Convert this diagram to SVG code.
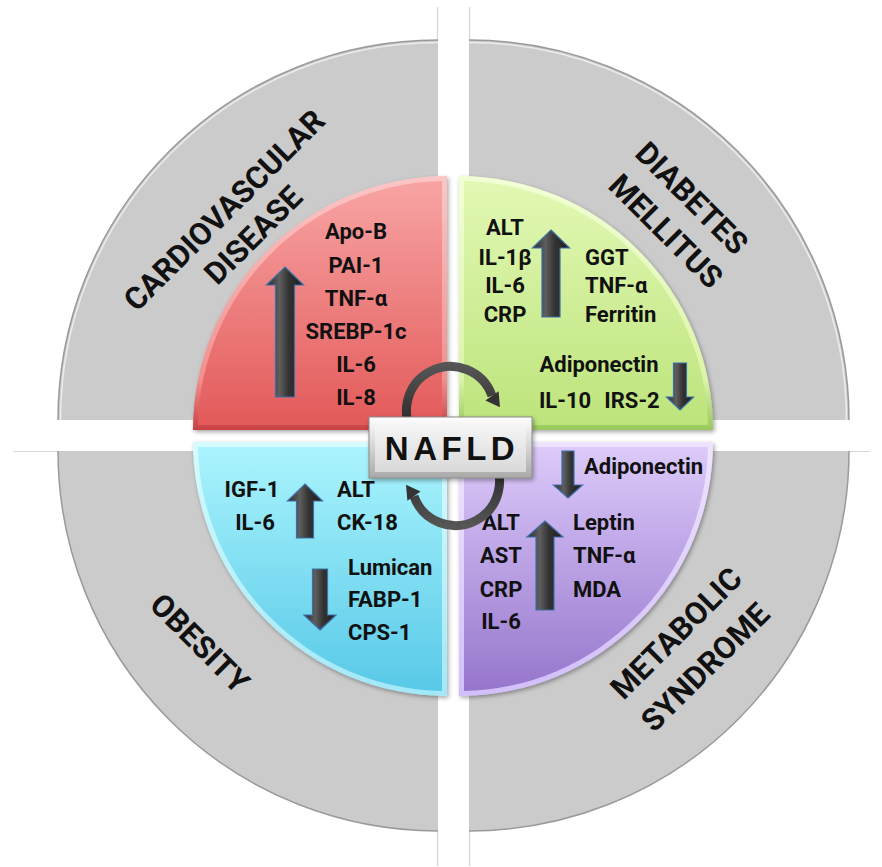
<svg xmlns="http://www.w3.org/2000/svg" width="882" height="867" viewBox="0 0 882 867">
<defs>
<style>
.t{font-family:Roboto,"Liberation Sans",Arial,sans-serif;font-weight:bold;font-size:22px;fill:#111}
.m{text-anchor:middle}
.o{font-family:Roboto,"Liberation Sans",Arial,sans-serif;font-weight:bold;font-size:31px;fill:#111;text-anchor:middle}
.gray{fill:#cbcbcb}
.garc{fill:none;stroke:#9a9a9a;stroke-width:1.5}
.ghl{fill:none;stroke:#ececec;stroke-width:1.5}
.xl{stroke:#d6d6d6;stroke-width:1.2;fill:none}
.arr{fill:url(#gArr);stroke:#3d6fa8;stroke-width:1.2;stroke-linejoin:miter}
.cyc{fill:none;stroke:url(#gCyc);stroke-width:9}
.cyh{fill:#333}
.q{filter:url(#sh)}
</style>
<filter id="sh" x="-10%" y="-10%" width="120%" height="120%">
<feDropShadow dx="1.5" dy="2" stdDeviation="2" flood-color="#000" flood-opacity="0.35"/>
</filter>
<linearGradient id="gArr" x1="0" y1="0" x2="1" y2="0">
<stop offset="0" stop-color="#2a2a2a"/><stop offset="0.35" stop-color="#5e5e5e"/><stop offset="0.6" stop-color="#333"/><stop offset="1" stop-color="#1c1c1c"/>
</linearGradient>
<linearGradient id="gCyc" x1="0" y1="0" x2="0" y2="1">
<stop offset="0" stop-color="#555"/><stop offset="1" stop-color="#222"/>
</linearGradient>
<linearGradient id="rE" x1="0" y1="0" x2="0" y2="1"><stop offset="0" stop-color="#fcc6c6"/><stop offset="0.8" stop-color="#f29090"/><stop offset="1" stop-color="#c84040"/></linearGradient>
<linearGradient id="rF" x1="0" y1="0" x2="0" y2="1"><stop offset="0" stop-color="#f8a4a4"/><stop offset="1" stop-color="#e35a5a"/></linearGradient>
<linearGradient id="gE" x1="0" y1="0" x2="0" y2="1"><stop offset="0" stop-color="#f2ffd6"/><stop offset="0.8" stop-color="#dcf4a8"/><stop offset="1" stop-color="#98c85a"/></linearGradient>
<linearGradient id="gF" x1="0" y1="0" x2="0" y2="1"><stop offset="0" stop-color="#e2f8b4"/><stop offset="1" stop-color="#bde47c"/></linearGradient>
<linearGradient id="bE" x1="0" y1="0" x2="0" y2="1"><stop offset="0" stop-color="#d6fcff"/><stop offset="1" stop-color="#a2e8f8"/></linearGradient>
<linearGradient id="bF" x1="0" y1="0" x2="0" y2="1"><stop offset="0" stop-color="#aaf4fd"/><stop offset="1" stop-color="#58c9e8"/></linearGradient>
<linearGradient id="pE" x1="0" y1="0" x2="0" y2="1"><stop offset="0" stop-color="#efe4ff"/><stop offset="1" stop-color="#d2befa"/></linearGradient>
<linearGradient id="pF" x1="0" y1="0" x2="0" y2="1"><stop offset="0" stop-color="#dccafa"/><stop offset="1" stop-color="#9676cc"/></linearGradient>
<linearGradient id="nE" x1="0" y1="0" x2="0" y2="1"><stop offset="0" stop-color="#ffffff"/><stop offset="1" stop-color="#a9a9a9"/></linearGradient>
<linearGradient id="nF" x1="0" y1="0" x2="0" y2="1"><stop offset="0" stop-color="#f6f6f6"/><stop offset="1" stop-color="#d9d9d9"/></linearGradient>
</defs>
<rect width="882" height="867" fill="#ffffff"/>

<g id="cross">
<line class="xl" x1="437.5" y1="7" x2="437.5" y2="866"/>
<line class="xl" x1="469.5" y1="7" x2="469.5" y2="866"/>
<line class="xl" x1="13" y1="451.5" x2="870" y2="451.5"/>
</g>

<g id="cardiovascular-disease">
<path class="gray" d="M438,420 L58,420 A380,380 0 0 1 438,40 Z"/>
<path class="garc" d="M58,420 A380,380 0 0 1 438,40"/>
<path class="ghl" d="M60.5,420 A377.5,377.5 0 0 1 438,42.5"/>
<text class="o" transform="translate(224,210) rotate(-45)" y="11">CARDIOVASCULAR</text>
<text class="o" transform="translate(253,235) rotate(-45)" y="11">DISEASE</text>
</g>
<g id="diabetes-mellitus">
<path class="gray" d="M469,420 L469,40 A380,380 0 0 1 849,420 Z"/>
<path class="garc" d="M469,40 A380,380 0 0 1 849,420"/>
<path class="ghl" d="M469,42.5 A377.5,377.5 0 0 1 846.5,420"/>
<text class="o" transform="translate(692,198) rotate(45)" y="11">DIABETES</text>
<text class="o" transform="translate(666,231) rotate(45)" y="11">MELLITUS</text>
</g>
<g id="obesity">
<path class="gray" d="M438,451 L438,831 A380,380 0 0 1 58,451 Z"/>
<path class="garc" d="M438,831 A380,380 0 0 1 58,451"/>
<text class="o" transform="translate(200,643) rotate(45)" y="11">OBESITY</text>
</g>
<g id="metabolic-syndrome">
<path class="gray" d="M469,451 L849,451 A380,380 0 0 1 469,831 Z"/>
<path class="garc" d="M849,451 A380,380 0 0 1 469,831"/>
<text class="o" transform="translate(676,633) rotate(-45)" y="11">METABOLIC</text>
<text class="o" transform="translate(705,667) rotate(-45)" y="11">SYNDROME</text>
</g>

<g id="cvd-markers">
<path class="q" d="M447,430 L193,430 A254,254 0 0 1 447,176 Z" fill="url(#rE)"/>
<path d="M442,425 L198,425 A249,249 0 0 1 442,181 Z" fill="url(#rF)"/>
<polygon class="arr" points="285,267 303.5,285 294.5,285 294.5,397 275.5,397 275.5,285 266.5,285"/>
<text class="t m" x="356" y="239">Apo-B</text>
<text class="t m" x="356" y="273">PAI-1</text>
<text class="t m" x="356" y="306">TNF-α</text>
<text class="t m" x="356" y="339">SREBP-1c</text>
<text class="t m" x="356" y="372">IL-6</text>
<text class="t m" x="356" y="405">IL-8</text>
</g>

<g id="dm-markers">
<path class="q" d="M459,430 L459,176 A254,254 0 0 1 713,430 Z" fill="url(#gE)"/>
<path d="M464,425 L464,181 A249,249 0 0 1 708,425 Z" fill="url(#gF)"/>
<polygon class="arr" points="551,230 569.5,248 560,248 560,317 542,317 542,248 532.5,248"/>
<polygon class="arr" points="680,410 693.5,397 686.5,397 686.5,363 673.5,363 673.5,397 666.5,397"/>
<text class="t m" x="505" y="235">ALT</text>
<text class="t m" x="505" y="265">IL-1β</text>
<text class="t m" x="505" y="293">IL-6</text>
<text class="t m" x="505" y="322">CRP</text>
<text class="t" x="585" y="265">GGT</text>
<text class="t" x="585" y="293">TNF-α</text>
<text class="t" x="585" y="322">Ferritin</text>
<text class="t m" x="599" y="372">Adiponectin</text>
<text class="t m" x="565" y="408">IL-10</text>
<text class="t m" x="632" y="408">IRS-2</text>
</g>

<g id="obesity-markers">
<path class="q" d="M447,442 L447,696 A254,254 0 0 1 193,442 Z" fill="url(#bE)"/>
<path d="M442,447 L442,691 A249,249 0 0 1 198,447 Z" fill="url(#bF)"/>
<polygon class="arr" points="305,484 322.5,501 313.5,501 313.5,538 296.5,538 296.5,501 287.5,501"/>
<polygon class="arr" points="320,630 336,615 327.5,615 327.5,569 312.5,569 312.5,615 304,615"/>
<text class="t m" x="252" y="497">IGF-1</text>
<text class="t m" x="255" y="530">IL-6</text>
<text class="t" x="337" y="497">ALT</text>
<text class="t" x="337" y="530">CK-18</text>
<text class="t" x="348" y="575">Lumican</text>
<text class="t" x="348" y="607">FABP-1</text>
<text class="t" x="348" y="640">CPS-1</text>
</g>

<g id="mets-markers">
<path class="q" d="M459,442 L713,442 A254,254 0 0 1 459,696 Z" fill="url(#pE)"/>
<path d="M464,447 L708,447 A249,249 0 0 1 464,691 Z" fill="url(#pF)"/>
<polygon class="arr" points="568,498 582.5,485 574,485 574,451 562,451 562,485 553.5,485"/>
<polygon class="arr" points="545,521 563,537 554,537 554,610 536,610 536,537 527,537"/>
<text class="t" x="584" y="474">Adiponectin</text>
<text class="t m" x="501" y="530">ALT</text>
<text class="t m" x="501" y="563">AST</text>
<text class="t m" x="501" y="597">CRP</text>
<text class="t m" x="501" y="629">IL-6</text>
<text class="t" x="573" y="530">Leptin</text>
<text class="t" x="573" y="563">TNF-α</text>
<text class="t" x="573" y="597">MDA</text>
</g>

<g id="connectors">
<g id="cycle-top">
<path class="cyc" d="M414.7,436 A44,44 0 1 1 492,395.8"/>
<polygon class="cyh" points="500,407.3 498.6,391.2 485.4,400.4"/>
</g>
<g id="cycle-bottom" transform="rotate(180 453 446)">
<path class="cyc" d="M414.7,436 A44,44 0 1 1 492,395.8"/>
<polygon class="cyh" points="500,407.3 498.6,391.2 485.4,400.4"/>
</g>
</g>

<g id="nafld">
<rect x="369" y="417" width="163" height="61" fill="url(#nE)" stroke="#8a8a8a" stroke-width="1" filter="url(#sh)"/>
<rect x="375" y="423" width="151" height="49" fill="url(#nF)"/>
<text x="452" y="460" text-anchor="middle" font-family="'Liberation Sans',Arial,sans-serif" font-weight="bold" font-size="33" letter-spacing="4.5" fill="#111">NAFLD</text>
</g>
</svg>
